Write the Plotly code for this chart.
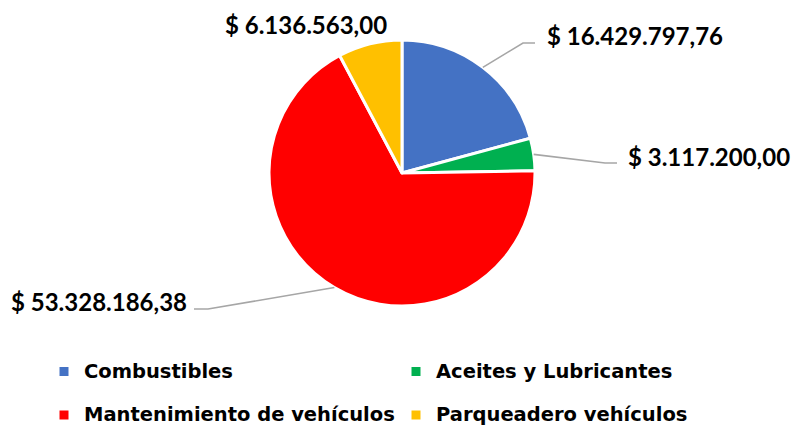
import math
import plotly.graph_objects as go

# ---- data ----
categories = ["Combustibles", "Aceites y Lubricantes",
              "Mantenimiento de vehículos", "Parqueadero vehículos"]
values = [16429797.76, 3117200.00, 53328186.38, 6136563.00]
value_labels = ["$ 16.429.797,76", "$ 3.117.200,00",
                "$ 53.328.186,38", "$ 6.136.563,00"]
colors = ["#4472C4", "#00B050", "#FF0000", "#FFC000"]

# ---- layout geometry (page pixels) ----
OFF = 0
FW, FH = 795, 425
CX, CY, R = 402, 173, 133
LABEL_FONT = "Lato"
LEGEND_FONT = "DejaVu Sans"


def fx(x):
    return (x - OFF) / FW


def fy(y):
    return 1 - (y - OFF) / FH


label_layout = [
    dict(tx=545, ty=35, xanchor="left", path=[(523, 43), (535, 43)]),
    dict(tx=626, ty=156.5, xanchor="left", path=[(605, 163), (617, 163)]),
    dict(tx=189, ty=301, xanchor="right", path=[(208, 309), (194, 309)]),
    dict(tx=305.5, ty=24, xanchor="center", path=None),
]

legend_labels = [f"<span style='font-size:19.5px'>{c}</span><br>&nbsp;" for c in categories]

fig = go.Figure(go.Pie(
    labels=legend_labels,
    values=values,
    marker=dict(colors=colors, line=dict(color="white", width=3)),
    sort=False,
    direction="clockwise",
    rotation=0,
    textinfo="none",
    hoverinfo="skip",
    domain=dict(x=[fx(CX - R), fx(CX + R)], y=[fy(CY + R), fy(CY - R)]),
))

total = sum(values)
cum = 0.0
shapes = []
annotations = []
for v, lab, lay in zip(values, value_labels, label_layout):
    mid = (cum + v / 2) / total * 2 * math.pi
    cum += v
    ex = CX + R * math.sin(mid)
    ey = CY - R * math.cos(mid)
    if lay["path"]:
        pts = [(ex, ey)] + lay["path"]
        d = "M " + " L ".join(f"{fx(x):.5f},{fy(y):.5f}" for x, y in pts)
        shapes.append(dict(type="path", path=d, xref="paper", yref="paper",
                           line=dict(color="#A6A6A6", width=1.6)))
    annotations.append(dict(
        text=lab, x=fx(lay["tx"]), y=fy(lay["ty"]), xref="paper", yref="paper",
        xanchor=lay["xanchor"], yanchor="middle", showarrow=False,
        font=dict(family=LABEL_FONT, size=24, color="#000000", weight="bold"),
    ))

fig.update_layout(
    width=FW, height=FH,
    margin=dict(l=0, r=0, t=0, b=0, autoexpand=False),
    paper_bgcolor="white",
    plot_bgcolor="white",
    shapes=shapes,
    annotations=annotations,
    showlegend=True,
    legend=dict(
        orientation="h", x=fx(44), xanchor="left", y=fy(355), yanchor="top",
        font=dict(family=LEGEND_FONT, size=15.5, color="#000000", weight="bold"),
        entrywidth=307, entrywidthmode="pixels", valign="top",
        traceorder="normal",
    ),
)

fig.write_html(
    "out.html",
    config={"displayModeBar": False},
    post_script="document.body.style.margin='0';document.body.style.overflow='hidden';",
)
